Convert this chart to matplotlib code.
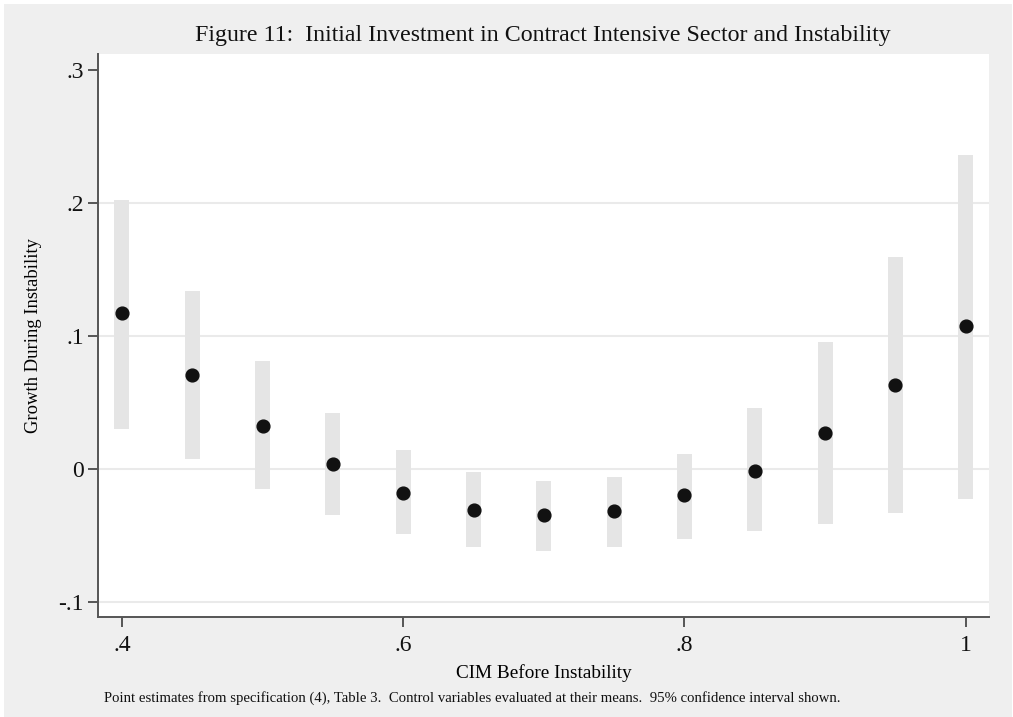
import matplotlib
matplotlib.use("Agg")
import matplotlib.pyplot as plt
from matplotlib.patches import Rectangle

# CIM levels and estimated growth with 95% confidence bounds
cim = [0.40, 0.45, 0.50, 0.55, 0.60, 0.65, 0.70, 0.75, 0.80, 0.85, 0.90, 0.95, 1.00]
estimate = [0.117, 0.0705, 0.0325, 0.0035, -0.018, -0.031, -0.035, -0.032, -0.020, -0.0013, 0.027, 0.063, 0.107]
ci_low = [0.030, 0.0073, -0.015, -0.0345, -0.049, -0.059, -0.0615, -0.0585, -0.053, -0.047, -0.0415, -0.0335, -0.0228]
ci_high = [0.202, 0.134, 0.0808, 0.0418, 0.014, -0.002, -0.009, -0.006, 0.011, 0.0455, 0.095, 0.159, 0.236]

x_ticks = [0.4, 0.6, 0.8, 1.0]
x_labels = [".4", ".6", ".8", "1"]
y_ticks = [-0.1, 0.0, 0.1, 0.2, 0.3]
y_labels = ["-.1", "0", ".1", ".2", ".3"]

W, H = 1013, 717
plt.rcParams["font.family"] = ["Liberation Serif", "DejaVu Serif"]

fig = plt.figure(figsize=(W / 100, H / 100), dpi=100, facecolor="white")
fig.patches.append(Rectangle((4 / W, 0), 1 - 5 / W, 1 - 4 / H, transform=fig.transFigure,
                             facecolor="#efefef", edgecolor="none", zorder=-10))

ax = fig.add_axes([98 / W, 1 - 617 / H, (989 - 98) / W, (617 - 54) / H])
ax.set_facecolor("white")

# confidence interval bars
bar_w = 0.0107
for x, lo, hi in zip(cim, ci_low, ci_high):
    ax.bar(x, hi - lo, bottom=lo, width=bar_w, color="#e5e5e5", edgecolor="none", zorder=2)

ax.plot(cim, estimate, "o", color="#111111", markersize=9.2, zorder=3)

for y in [-0.1, 0.0, 0.1, 0.2]:
    ax.axhline(y, color="#eaeaea", linewidth=1.5, zorder=1)

ax.set_xlim(0.383, 1.0165)
ax.set_ylim(-0.1113, 0.3117)
ax.set_xticks(x_ticks)
ax.set_xticklabels(x_labels)
ax.set_yticks(y_ticks)
ax.set_yticklabels(y_labels)

for side in ["top", "right"]:
    ax.spines[side].set_visible(False)
for side in ["left", "bottom"]:
    ax.spines[side].set_color("#555555")
    ax.spines[side].set_linewidth(1.4)

ax.tick_params(axis="both", direction="out", length=7, width=1.4, color="#555555",
               labelsize=17, labelcolor="#111111")
ax.tick_params(axis="x", pad=6)
ax.tick_params(axis="y", pad=3)

ax.set_xlabel("CIM Before Instability", fontsize=13.9, labelpad=6)
ax.set_ylabel("Growth During Instability", fontsize=13.4, labelpad=12)

fig.text(543 / W, 1 - 36 / H, "Figure 11:  Initial Investment in Contract Intensive Sector and Instability",
         ha="center", va="center", fontsize=17.2, color="#111111")
fig.text(104 / W, 1 - 698 / H,
         "Point estimates from specification (4), Table 3.  Control variables evaluated at their means.  95% confidence interval shown.",
         ha="left", va="center", fontsize=10.6, color="#111111")

fig.savefig("out.png", dpi=100, facecolor=fig.get_facecolor())
